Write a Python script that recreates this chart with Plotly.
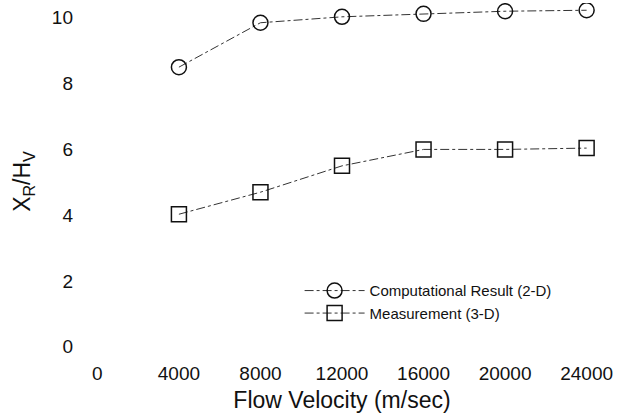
import plotly.graph_objects as go

velocity = [4000, 8000, 12000, 16000, 20000, 24000]
computational_2d = [8.5, 9.85, 10.03, 10.12, 10.2, 10.23]
measurement_3d = [4.03, 4.7, 5.5, 6.0, 6.0, 6.04]

x_ticks = [0, 4000, 8000, 12000, 16000, 20000, 24000]
y_ticks = [0, 2, 4, 6, 8, 10]

fig = go.Figure()
fig.add_trace(go.Scatter(
    x=velocity, y=computational_2d, mode="lines+markers",
    name="Computational Result (2-D)",
    line=dict(color="#333333", width=1, dash="dashdot"),
    marker=dict(symbol="circle-open", size=15, color="#111111", line=dict(width=1.5)),
))
fig.add_trace(go.Scatter(
    x=velocity, y=measurement_3d, mode="lines+markers",
    name="Measurement (3-D)",
    line=dict(color="#333333", width=1, dash="dashdot"),
    marker=dict(symbol="square-open", size=15, color="#111111", line=dict(width=1.5)),
))

fig.update_layout(
    width=627, height=419,
    margin=dict(l=77, r=20, t=3, b=59, autoexpand=False),
    plot_bgcolor="white", paper_bgcolor="white",
    font=dict(family="Liberation Sans, Arial, sans-serif", color="#111111"),
    showlegend=True,
    legend=dict(
        x=0.42, y=0.24, xanchor="left", yanchor="top",
        bgcolor="rgba(0,0,0,0)", font=dict(size=15),
        itemwidth=60, tracegroupgap=0,
    ),
    xaxis=dict(
        range=[-1000, 25000], tickvals=x_ticks,
        ticktext=[str(v) for v in x_ticks],
        showgrid=False, zeroline=False, showline=False, automargin=False,
        tickfont=dict(size=19),
        title=dict(text="Flow Velocity (m/sec)", font=dict(size=23), standoff=8),
    ),
    yaxis=dict(
        range=[-0.4, 10.45], tickvals=y_ticks,
        showgrid=False, zeroline=False, showline=False, automargin=False,
        tickfont=dict(size=19), ticklabelstandoff=3,
        title=dict(text="X<sub>R</sub>/H<sub>V</sub>", font=dict(size=23), standoff=14),
    ),
)

fig.write_html(
    "out.html",
    config={"displayModeBar": False},
    post_script="document.body.style.margin='0';",
)
